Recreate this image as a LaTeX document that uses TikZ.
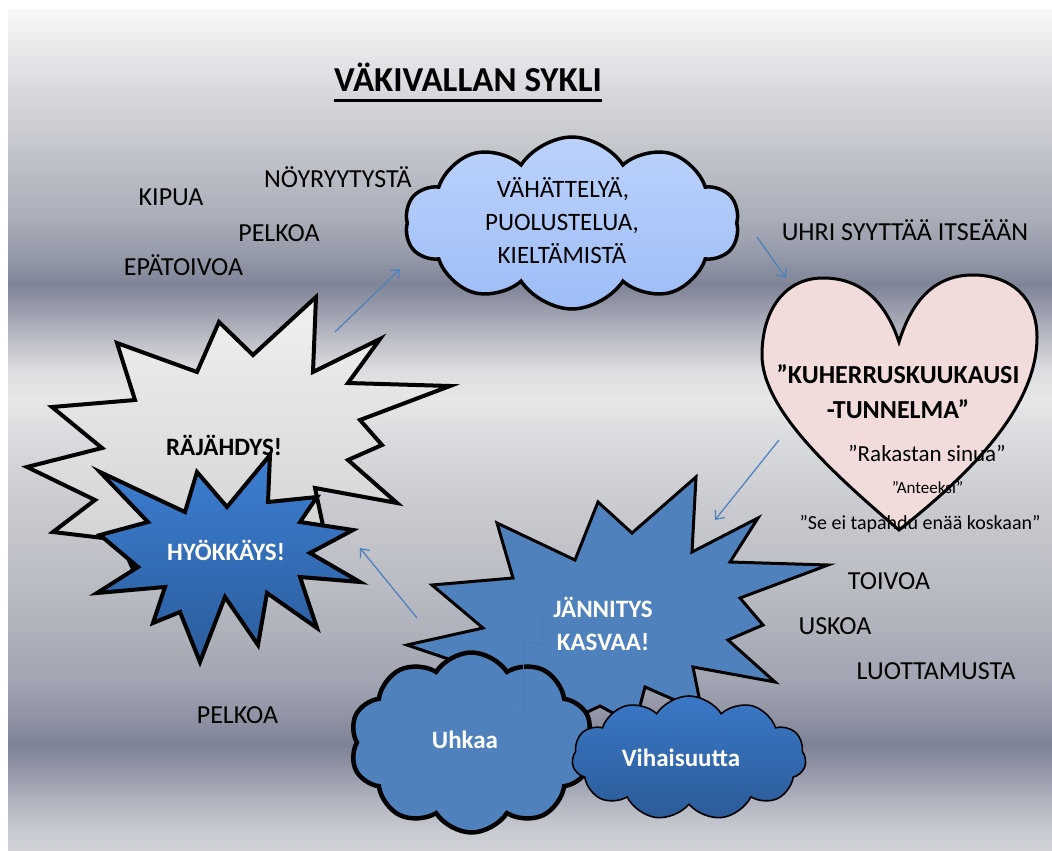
\documentclass[tikz,border=0pt]{standalone}
\usepackage{fontspec}
\setmainfont{Carlito}
\usetikzlibrary{shapes.symbols,arrows.meta}
\definecolor{bgA}{HTML}{F8F8F8}
\definecolor{bgB}{HTML}{F2F2F3}
\definecolor{bgC}{HTML}{DCDDE1}
\definecolor{bgD}{HTML}{C3C5CC}
\definecolor{bgE}{HTML}{A9ADB8}
\definecolor{bgF}{HTML}{9297A6}
\definecolor{bgG}{HTML}{7E8497}
\definecolor{bgH}{HTML}{9599A8}
\definecolor{bgI}{HTML}{BDBFC7}
\definecolor{bgJ}{HTML}{DCDDE0}
\definecolor{bgK}{HTML}{E7E7E8}
\definecolor{bgL}{HTML}{DCDDE0}
\definecolor{bgM}{HTML}{CBCCD1}
\definecolor{bgN}{HTML}{B7B9C1}
\definecolor{bgO}{HTML}{A2A5B2}
\definecolor{bgP}{HTML}{8D91A2}
\definecolor{bgQ}{HTML}{7D8296}
\definecolor{bgR}{HTML}{9397A7}
\definecolor{bgS}{HTML}{B0B3BE}
\definecolor{bgT}{HTML}{C8CAD1}
\definecolor{bgU}{HTML}{D0D2D8}
\definecolor{arrowblue}{HTML}{4F81BD}
\definecolor{midblue}{HTML}{4F81BD}
\definecolor{hyotop}{HTML}{3C7FD3}
\definecolor{hyobot}{HTML}{2B5C9A}
\definecolor{vihtop}{HTML}{3A78C6}
\definecolor{vihbot}{HTML}{2C5B98}
\definecolor{cloudtop}{HTML}{BCD2FB}
\definecolor{cloudbot}{HTML}{9DBDF6}
\definecolor{heartfill}{HTML}{F2DCDB}
\definecolor{graytop}{HTML}{F0F0F0}
\definecolor{graybot}{HTML}{CFCFCF}
\definecolor{faintline}{HTML}{4A7BB6}
\begin{document}
\begin{tikzpicture}[x=1pt,y=-1pt,
  lbl/.style={font=\fontsize{26}{28}\selectfont, inner sep=0, anchor=base, text=black},
  bld/.style={font=\fontsize{25}{28}\selectfont\bfseries, inner sep=0, anchor=base},
  wht/.style={bld, text=white},
  flow/.style={draw=arrowblue, line width=1.3, -{Straight Barb[length=7, width=12]}},
  starline/.style={draw=black, line width=4, line join=miter, miter limit=20}]
\useasboundingbox (0,0) rectangle (1052,851);
\fill[white] (0,0) rectangle (1052,851);
\foreach \ya/\yb/\ca/\cb in {10/25/bgA/bgB, 25/80/bgB/bgC, 80/150/bgC/bgD, 150/220/bgD/bgE,
  220/260/bgE/bgF, 260/285/bgF/bgG, 285/305/bgG/bgH, 305/340/bgH/bgI, 340/370/bgI/bgJ,
  370/400/bgJ/bgK, 400/430/bgK/bgL, 430/500/bgL/bgM, 500/600/bgM/bgN, 600/680/bgN/bgO,
  680/720/bgO/bgP, 720/745/bgP/bgQ, 745/770/bgQ/bgR, 770/800/bgR/bgS, 800/830/bgS/bgT, 830/851/bgT/bgU}
  {\shade[top color=\ca, bottom color=\cb] (8,\ya-0.6) rectangle (1052,\yb+0.6);}

% title
\node[bld, font=\fontsize{35}{38}\selectfont\bfseries] (title) at (468,92) {VÄKIVALLAN SYKLI};
\draw[line width=3] ([yshift=-8]title.base west) -- ([yshift=-8]title.base east);

% free labels
\node[lbl] (noy) at (338,187) {NÖYRYYTYSTÄ};
\node[lbl] (kipua) at (171,205) {KIPUA};
\node[lbl] (pelkoa1) at (279,241) {PELKOA};
\node[lbl] (epatoivoa) at (183.5,275) {EPÄTOIVOA};
\node[lbl] (uhri) at (905,240) {UHRI SYYTTÄÄ ITSEÄÄN};
\node[lbl] (toivoa) at (889,589) {TOIVOA};
\node[lbl] (uskoa) at (835,634) {USKOA};
\node[lbl] (luott) at (936,679) {LUOTTAMUSTA};
\node[lbl] (pelkoa2) at (237.5,723) {PELKOA};

% arrow end points
\coordinate (a1s) at (335,332); \coordinate (a1e) at (400,269);
\coordinate (a2s) at (757,237); \coordinate (a2e) at (786,278);
\coordinate (a3s) at (779,440); \coordinate (a3e) at (715,520);
\coordinate (a4s) at (417,618); \coordinate (a4e) at (360,548);

% top cloud
\node[cloud, cloud puffs=10, cloud puff arc=115, cloud ignores aspect, minimum width=334, minimum height=172,
  draw=black, line width=3.5, top color=cloudtop, bottom color=cloudbot, inner sep=0] (cloudtop) at (572,223) {};
\node[lbl, font=\fontsize{25}{28}\selectfont] (ct1) at (563,197) {VÄHÄTTELYÄ,};
\node[lbl, font=\fontsize{25}{28}\selectfont] (ct2) at (562,230) {PUOLUSTELUA,};
\node[lbl, font=\fontsize{25}{28}\selectfont] (ct3) at (562,263) {KIELTÄMISTÄ};

% heart
\draw[fill=heartfill, draw=black, line width=3]
  (899,342) .. controls (885,300) and (860,278) .. (823,278)
  .. controls (785,278) and (762,310) .. (762,355)
  .. controls (762,410) and (835,475) .. (899,530)
  .. controls (975,470) and (1037,405) .. (1037,337)
  .. controls (1037,297) and (1010,275) .. (973,275)
  .. controls (935,275) and (912,300) .. (899,342) -- cycle;
\node[bld, font=\fontsize{26}{28}\selectfont\bfseries] (h1) at (898,383) {”KUHERRUSKUUKAUSI};
\node[bld, font=\fontsize{26}{28}\selectfont\bfseries] (h2) at (898,418) {-TUNNELMA”};
\node[lbl, font=\fontsize{23}{26}\selectfont] (h3) at (927,461) {”Rakastan sinua”};
\node[lbl, font=\fontsize{17}{20}\selectfont] (h4) at (927.5,493) {”Anteeksi”};
\node[lbl, font=\fontsize{20}{22}\selectfont] (h5) at (920,529) {”Se ei tapahdu enää koskaan”};

% RÄJÄHDYS star
\draw[starline, top color=graytop, bottom color=graybot]
  (316,297) -- (313,372) -- (380,339) -- (348,383) -- (450,386) -- (360,420) -- (382,445) -- (348,460)
  -- (397,503) -- (315,488) -- (325,535) -- (260,525) -- (215,565) -- (180,540) -- (140,585) -- (120,540)
  -- (53,532) -- (95,500) -- (27,467) -- (102,448) -- (52,407) -- (135,400) -- (117,343) -- (197,372)
  -- (219,322) -- (253,355) -- cycle;
\node[bld] (rajahdys) at (224,455) {RÄJÄHDYS!};

% HYÖKKÄYS star
\draw[starline, top color=hyotop, bottom color=hyobot]
  (270,455) -- (268,502) -- (317,497) -- (300,522) -- (353,530) -- (310,553) -- (360,582) -- (300,577)
  -- (317,628) -- (267,593) -- (258,645) -- (225,597) -- (200,662) -- (180,612) -- (153,623) -- (165,587)
  -- (97,593) -- (138,567) -- (100,535) -- (148,522) -- (100,472) -- (185,512) -- (197,472) -- (227,507) -- cycle;
\node[wht] (hyokkays) at (226,560) {HYÖKKÄYS!};

% JÄNNITYS star
\draw[draw=black, line width=3, line join=miter, miter limit=20, fill=midblue]
  (696,477) -- (692,552) -- (758,518) -- (730,562) -- (828,565) -- (740,598) -- (763,625) -- (728,640)
  -- (775,682) -- (693,667) -- (702,712) -- (645,687) -- (635,725) -- (600,706) -- (560,725) -- (520,690)
  -- (470,705) -- (475,668) -- (407,645) -- (483,628) -- (432,585) -- (513,578) -- (497,523) -- (575,560)
  -- (598,502) -- (632,533) -- cycle;
\node[wht] (jan1) at (603,617) {JÄNNITYS};
\node[wht] (jan2) at (603,650) {KASVAA!};

% Uhkaa cloud
\node[cloud, cloud puffs=10, cloud puff arc=115, cloud ignores aspect, minimum width=243, minimum height=180,
  draw=black, line width=4.5, fill=midblue, inner sep=0] (uhkaacl) at (471.5,742.5) {};
\draw[draw=faintline, line width=0.8, -{Straight Barb[length=5, width=8]}]
  (542,610) coordinate (f1) -- (542,643) -- (523,643) -- (523,713) coordinate (f2);
\node[wht] (uhkaa) at (465,748) {Uhkaa};

% Vihaisuutta cloud
\node[cloud, cloud puffs=11, cloud puff arc=115, cloud ignores aspect, minimum width=234, minimum height=124,
  draw=black, line width=1.6, top color=vihtop, bottom color=vihbot, inner sep=0] (vihcl) at (689,758) {};
\node[wht] (vih) at (681,766) {Vihaisuutta};

% arrows
\draw[flow] (a1s) -- (a1e);
\draw[flow] (a2s) -- (a2e);
\draw[flow] (a3s) -- (a3e);
\draw[flow] (a4s) -- (a4e);
\end{tikzpicture}
\end{document}
